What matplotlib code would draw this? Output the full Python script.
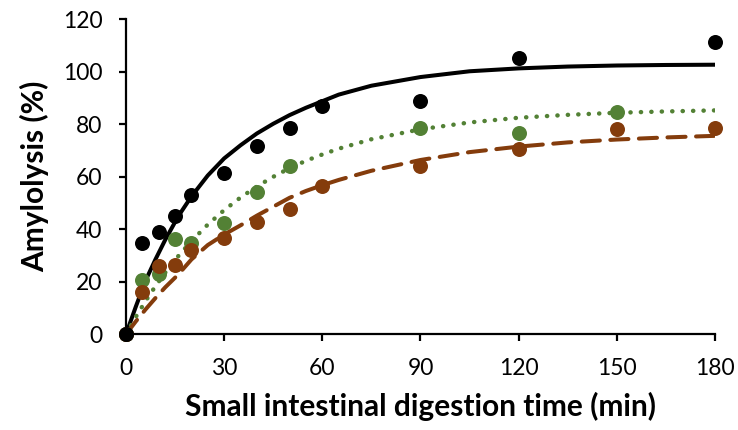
import matplotlib
matplotlib.use('Agg')
import matplotlib.pyplot as plt

plt.rcParams['font.family'] = ['Lato', 'DejaVu Sans']

# measured points (time in min, amylolysis in %)
t_black = [0, 5, 10, 15, 20, 30, 40, 50, 60, 90, 120, 180]
y_black = [0, 34.8, 39.0, 45.0, 53.2, 61.5, 71.6, 78.7, 86.8, 88.8, 105.3, 111.4]

t_green = [0, 5, 10, 15, 20, 30, 40, 50, 90, 120, 150]
y_green = [0, 20.8, 23.1, 36.2, 34.8, 42.5, 54.2, 64.2, 78.5, 76.8, 84.5]

t_brown = [0, 5, 10, 15, 20, 30, 40, 50, 60, 90, 120, 150, 180]
y_brown = [0, 16.0, 25.9, 26.5, 32.0, 36.8, 42.7, 47.6, 56.5, 64.0, 70.5, 78.3, 78.6]

# fitted curves
t_fit = [0, 3, 6, 9, 12, 16, 20, 25, 30, 35, 40, 45, 50, 55, 60, 65, 75, 90,
         105, 120, 135, 150, 165, 180]
fit_black = [0, 10.5, 20.5, 28.5, 36.0, 45.0, 52.5, 60.5, 67.0, 72.0, 76.5, 80.2,
             83.5, 86.3, 88.8, 91.3, 94.7, 98.0, 100.2, 101.3, 102.0, 102.4, 102.6, 102.7]
fit_green = [0, 6.6, 12.7, 18.3, 23.5, 29.8, 35.5, 41.8, 47.3, 52.1, 56.3, 60.0,
             63.3, 66.1, 68.5, 70.7, 74.3, 78.1, 80.7, 82.5, 83.6, 84.4, 84.9, 85.3]
fit_brown = [0, 4.9, 9.5, 13.8, 17.9, 22.8, 28.5, 34.0, 38.0, 41.5, 45.2, 48.6,
             52.0, 54.6, 56.8, 58.8, 62.3, 66.4, 69.4, 71.5, 73.1, 74.2, 75.0, 75.6]

c_black = 'black'
c_green = '#538135'
c_brown = '#843c0c'

fig = plt.figure(figsize=(7.38, 4.30), dpi=100)
ax = fig.add_axes([0.1707, 0.2226, 0.7981, 0.7325])

ax.plot(t_fit, fit_black, color=c_black, lw=2.9, solid_capstyle='round', zorder=2)
ax.plot(t_fit, fit_green, color=c_green, lw=3.2, linestyle=(0, (0.05, 2.3)),
        dash_capstyle='round', zorder=2)
ax.plot(t_fit, fit_brown, color=c_brown, lw=2.9, linestyle=(0, (4.5, 2.6)),
        dash_capstyle='round', zorder=2)

ax.plot(t_black, y_black, 'o', color=c_black, ms=10.8, mew=0, zorder=3, clip_on=False)
ax.plot(t_green, y_green, 'o', color=c_green, ms=10.8, mew=0, zorder=3, clip_on=False)
ax.plot(t_brown, y_brown, 'o', color=c_brown, ms=10.8, mew=0, zorder=3, clip_on=False)
ax.plot([0], [0], 'o', color=c_black, ms=10.8, mew=0, zorder=4, clip_on=False)

ax.set_xlim(0, 180)
ax.set_ylim(0, 120)
ax.set_xticks(range(0, 181, 30))
ax.set_yticks(range(0, 121, 20))

for s in ['top', 'right']:
    ax.spines[s].set_visible(False)
for s in ['left', 'bottom']:
    ax.spines[s].set_linewidth(1.6)
ax.tick_params(direction='out', length=5, width=1.6, labelsize=16.5)
ax.tick_params(axis='x', pad=12)
ax.tick_params(axis='y', pad=12)

ax.set_xlabel('Small intestinal digestion time (min)', fontsize=21.5,
              fontweight='bold', labelpad=9)
ax.set_ylabel('Amylolysis (%)', fontsize=21.5, fontweight='bold', labelpad=10)

fig.savefig('out.png', dpi=100)
